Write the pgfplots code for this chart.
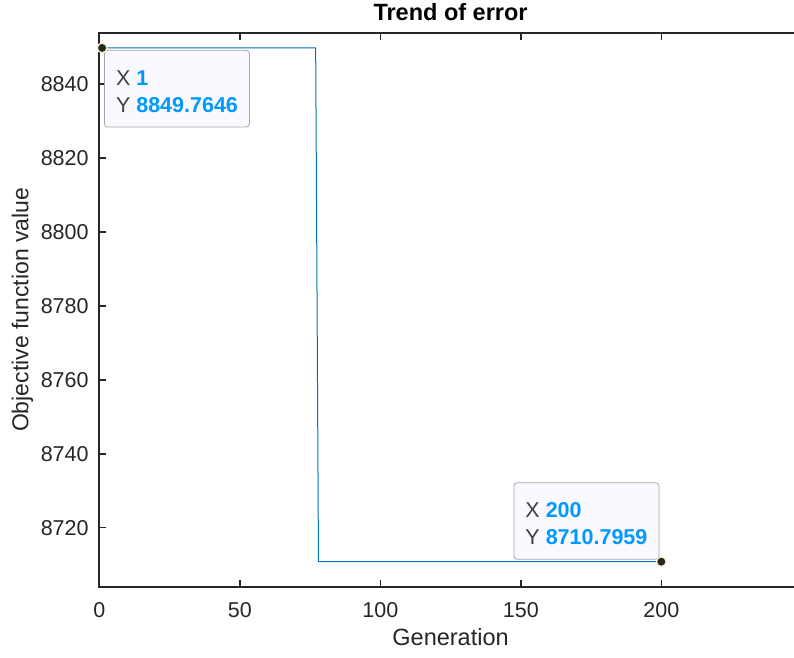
\documentclass[border=0pt]{standalone}
\usepackage{fontspec}
\setmainfont{Liberation Sans}
\usepackage{pgfplots}
\pgfplotsset{compat=1.18}
\definecolor{axgray}{RGB}{38,38,38}
\definecolor{mblue}{RGB}{0,114,189}
\definecolor{tipblue}{RGB}{0,153,255}
\definecolor{tiptext}{RGB}{64,64,64}
\definecolor{tipfill}{RGB}{249,249,255}
\definecolor{tipedge}{RGB}{165,165,165}
\definecolor{ring}{RGB}{246,242,196}

\tikzset{
  tipbox/.style={draw=tipedge, fill=tipfill, rounded corners=3pt, line width=0.8pt,
    align=left, inner xsep=11.5pt, inner ysep=14.5pt, text=tiptext,
    font=\fontsize{21.5}{27}\selectfont},
}
\newcommand{\tipval}[1]{\textcolor{tipblue}{\bfseries #1}}
% extra room above the first line of a data tip
\newcommand{\tipstrut}{\rule{0pt}{20.4pt}}

\begin{document}
\begin{tikzpicture}
\begin{axis}[
  at={(0,0)}, anchor=south west,
  scale only axis, width=702.5pt, height=553.7pt,
  set layers, clip=false,
  xmin=0, xmax=250, ymin=8704.04, ymax=8853.8,
  xtick={0,50,100,150,200},
  ytick={8720,8740,8760,8780,8800,8820,8840},
  /pgf/number format/assume math mode=true,
  /pgf/number format/set thousands separator={},
  tick align=inside, major tick length=7pt,
  axis line style={axgray, line width=1.8pt},
  tick style={axgray, line width=1.5pt},
  xticklabel style={anchor=base, yshift=-30.5pt, font=\fontsize{21.5}{25}\selectfont, text=axgray},
  yticklabel style={anchor=east, inner sep=0pt, xshift=-10.5pt, font=\fontsize{21.5}{25}\selectfont, text=axgray},
  every axis title shift=0pt,
  title={Trend of error},
  title style={at={(axis description cs:0.5,1.0217)}, anchor=base,
    font=\fontsize{23.5}{28}\selectfont\bfseries, text=black},
  xlabel={Generation},
  xlabel style={at={(axis description cs:0.5,-0.1066)}, anchor=base,
    font=\fontsize{23.5}{28}\selectfont, text=axgray},
  ylabel={Objective function value},
  ylabel style={at={(axis description cs:-0.1011,0.5)}, anchor=base,
    font=\fontsize{23}{28}\selectfont, text=axgray},
]
% best objective value per generation
\addplot[mblue, line width=1pt] coordinates {
  (1,8849.7646) (77,8849.7646) (78,8710.7959) (200,8710.7959)
};
% data tips
\begin{pgfonlayer}{pre main}
\node[tipbox, anchor=north west, xshift=2pt, yshift=-2pt] at (axis cs:1,8849.7646)
  {\tipstrut X \tipval{1}\\Y \tipval{8849.7646}};
\node[tipbox, anchor=south east, xshift=-2pt, yshift=2pt] at (axis cs:200,8710.7959)
  {\tipstrut X \tipval{200}\\Y \tipval{8710.7959}};
\end{pgfonlayer}
\addplot[only marks, mark=*, mark size=4.8pt,
  mark options={fill=axgray, draw=ring, line width=1.3pt}] coordinates {
  (1,8849.7646) (200,8710.7959)
};
\end{axis}
% page: the right edge of the axis box runs off the page
\pgfresetboundingbox
\path[use as bounding box] (-99.3pt,-70.3pt) rectangle (694.7pt,586.7pt);
\end{tikzpicture}
\end{document}
